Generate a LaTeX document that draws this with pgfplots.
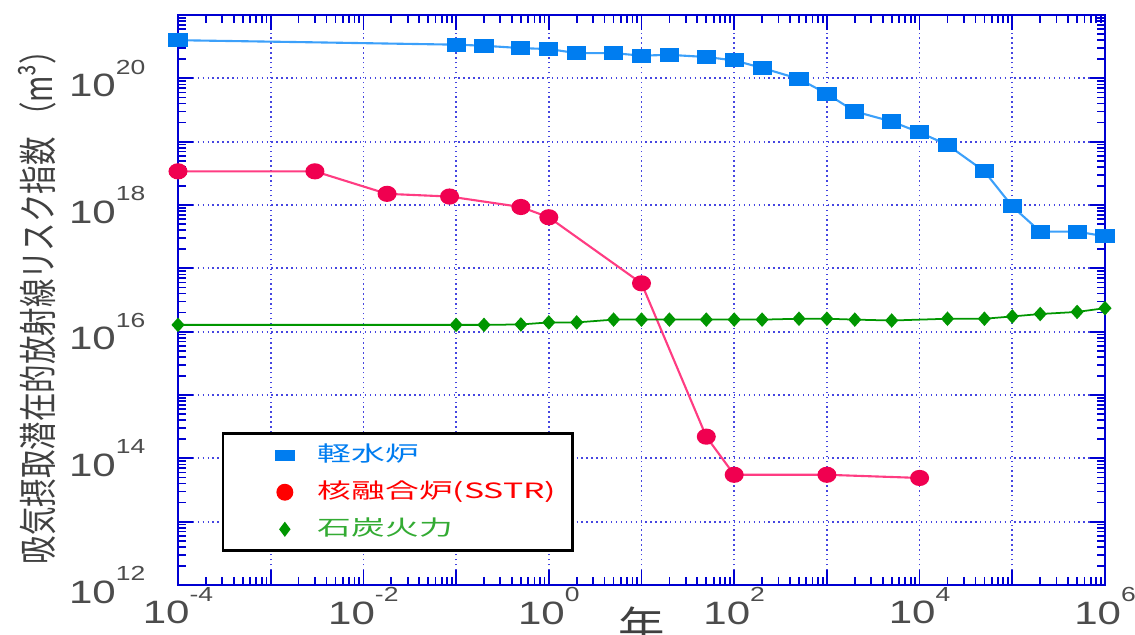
\documentclass[border=0pt]{standalone}
\usepackage{fontspec}
\setmainfont{Liberation Sans}
\newfontfamily\cjk{Noto Sans CJK JP}
\usepackage{graphicx}
\usepackage{pgfplots}
\pgfplotsset{compat=1.18}

\definecolor{lwr}{RGB}{0,125,240}
\definecolor{lwrline}{RGB}{60,160,250}
\definecolor{fus}{RGB}{240,0,80}
\definecolor{fusline}{RGB}{255,60,130}
\definecolor{coal}{RGB}{0,150,0}
\definecolor{frame}{RGB}{0,0,210}
\definecolor{gridc}{RGB}{70,70,225}

% 10^n written in text mode, a bit wide like the original
\newcommand{\ex}[1]{\scalebox{1.3}[1]{10\raisebox{6.4pt}{\fontsize{5.8}{6}\selectfont#1}}}
% legend text: wide, fixed cell width
\newcommand{\legtext}[1]{\makebox[19.5mm][l]{\scalebox{1.6}[1]{\cjk\fontsize{6}{7}\selectfont #1}}}

\begin{document}
\begin{tikzpicture}
\begin{axis}[
    xmode=log, ymode=log,
    scale only axis, width=92.7mm, height=57mm,
    xmin=1e-4, xmax=1e6, ymin=1e12, ymax=1e21,
    xtick={1e-4,1e-3,1e-2,1e-1,1,1e1,1e2,1e3,1e4,1e5,1e6},
    xticklabels={\ex{-4},,\ex{-2},,\ex{0},,\ex{2},,\ex{4},,\ex{6}},
    ytick={1e12,1e13,1e14,1e15,1e16,1e17,1e18,1e19,1e20,1e21},
    yticklabels={\ex{12},,\ex{14},,\ex{16},,\ex{18},,\ex{20},},
    tick pos=both,
    grid=major,
    major grid style={gridc, densely dotted, line width=0.5pt},
    axis line style={frame, line width=0.7pt},
    every tick/.style={frame, line width=0.5pt},
    major tick length=1.5mm, minor tick length=0.8mm,
    tick label style={font=\fontsize{9.2}{11}\selectfont, text=black!70},
    xticklabel style={inner sep=0.5pt},
    yticklabel style={inner sep=0pt, xshift=-3.2mm},
    xlabel={\scalebox{1.2}[1]{\cjk 年}},
    xlabel style={at={(rel axis cs:0.5,-0.038)}, anchor=north,
        font=\fontsize{11}{12}\selectfont, text=black!75, inner sep=0pt},
    ylabel={\scalebox{1}[1.35]{\cjk 吸気摂取潜在的放射線リスク指数\ （m³）}},
    ylabel style={at={(rel axis cs:-0.152,0.5)}, anchor=center,
        font=\fontsize{8.1}{9}\selectfont, text=black!75, inner sep=0pt},
    clip=false,
    legend cell align=left,
    legend style={at={(rel axis cs:0.047,0.268)}, anchor=north west,
        draw=black, line width=0.8pt, fill=white,
        inner xsep=5.3mm, inner ysep=0.3mm,
        /tikz/every odd column/.append style={column sep=1.7mm}},
]
\coordinate (sw) at (rel axis cs:0,0);
\coordinate (ne) at (rel axis cs:1,1);

% 軽水炉
\addplot[lwrline, line width=0.6pt, mark=square*,
    mark options={lwr, fill=lwr, xscale=1.35, yscale=0.95, mark size=1.8pt},
    mark indices={1,5,6,7,8,9,10,11,12,13,14,15,16,17,18,19,20,21,22,23,24,25,26},
    forget plot] coordinates {
    (1e-4,4.0e20) (3e-4,3.9e20) (3e-3,3.7e20) (3e-2,3.5e20)
    (0.1,3.4e20) (0.2,3.27e20) (0.5,3.0e20) (1,2.9e20)
    (2,2.5e20) (5,2.5e20) (10,2.28e20) (20,2.35e20)
    (50,2.17e20) (100,1.92e20) (200,1.46e20) (500,9.8e19)
    (1000,5.7e19) (2000,3.0e19) (5000,2.08e19) (1e4,1.4e19)
    (2e4,8.9e18) (5e4,3.4e18) (1e5,9.5e17) (2e5,3.8e17)
    (5e5,3.8e17) (1e6,3.2e17)
};

% 核融合炉(SSTR)
\addplot[fusline, line width=0.6pt, mark=*,
    mark options={fus, fill=fus, xscale=1.2, mark size=2.0pt},
    forget plot] coordinates {
    (1e-4,3.4e18) (3e-3,3.4e18) (0.018,1.5e18) (0.085,1.36e18)
    (0.5,9.3e17) (1,6.4e17) (10,5.8e16) (50,2.2e14)
    (100,5.5e13) (1000,5.5e13) (1e4,4.9e13)
};

% 石炭火力
\addplot[coal, line width=0.5pt, mark=diamond*,
    mark options={coal, fill=coal, xscale=1.2, mark size=1.7pt},
    forget plot] coordinates {
    (1e-4,1.28e16) (0.1,1.28e16) (0.2,1.28e16) (0.5,1.3e16)
    (1,1.4e16) (2,1.4e16) (5,1.55e16) (10,1.55e16)
    (20,1.55e16) (50,1.55e16) (100,1.55e16) (200,1.55e16)
    (500,1.6e16) (1000,1.6e16) (2000,1.55e16) (5000,1.5e16)
    (2e4,1.6e16) (5e4,1.6e16) (1e5,1.74e16) (2e5,1.9e16)
    (5e5,2.05e16) (1e6,2.35e16)
};

\addlegendimage{only marks, mark=square*, mark options={lwr, fill=lwr, xscale=2.2, mark size=1.15pt}}
\addlegendentry[text=lwr]{\legtext{軽水炉}}
\addlegendimage{only marks, mark=*, mark options={red, fill=red, mark size=2pt}}
\addlegendentry[text=red]{\legtext{核融合炉(SSTR)}}
\addlegendimage{only marks, mark=diamond*, mark options={coal, fill=coal, mark size=1.5pt}}
\addlegendentry[text=coal!80!white]{\legtext{石炭火力}}
\end{axis}
\pgfresetboundingbox
\path[use as bounding box] ([xshift=-17.8mm,yshift=-4.9mm]sw) rectangle ([xshift=3mm,yshift=1.5mm]ne);
\end{tikzpicture}
\end{document}
